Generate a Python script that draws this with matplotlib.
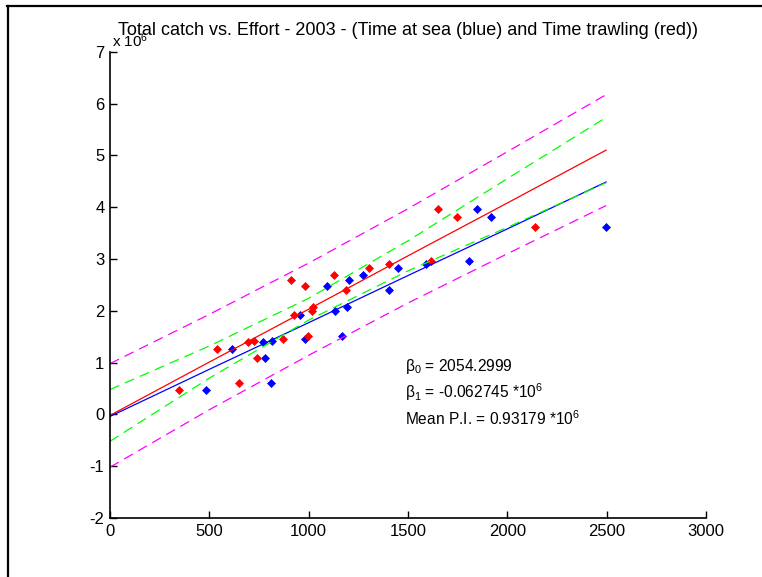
import matplotlib
matplotlib.use("Agg")
import matplotlib.pyplot as plt
from matplotlib.lines import Line2D

plt.rcParams['font.family'] = ['Liberation Sans', 'DejaVu Sans']
plt.rcParams['axes.unicode_minus'] = False
plt.rcParams['mathtext.default'] = 'regular'

# catch (x10^6) for each vessel, with effort as time at sea (blue) and time trawling (red)
catch = [0.477, 1.268, 0.612, 1.394, 1.419, 1.087, 1.458, 1.925, 1.988, 2.071, 2.485,
         2.587, 2.697, 2.407, 2.824, 2.909, 2.959, 3.963, 3.809, 3.620, 1.506]
time_sea = [485, 616, 809, 769, 815, 780, 982, 958, 1134, 1193, 1091,
            1201, 1275, 1403, 1450, 1591, 1807, 1846, 1918, 2497, 1168]
time_trawl = [347, 540, 651, 696, 725, 741, 869, 928, 1015, 1023, 982,
              911, 1126, 1188, 1305, 1403, 1614, 1649, 1745, 2137, 997]

# fitted lines and bands
fit_x = [0, 500, 1000, 1500, 2000, 2497]
fit_sea = [-0.04, 0.87, 1.77, 2.68, 3.58, 4.485]
fit_trawl = [-0.02, 1.01, 2.03, 3.06, 4.08, 5.10]
ci_upper = [0.48, 1.32, 2.24, 3.35, 4.55, 5.73]
ci_lower = [-0.52, 0.70, 1.82, 2.77, 3.61, 4.47]
pi_upper = [0.98, 1.93, 2.92, 3.97, 5.07, 6.17]
pi_lower = [-1.02, 0.09, 1.14, 2.15, 3.10, 4.03]

fig = plt.figure(figsize=(7.62, 5.77), dpi=100)
ax = fig.add_axes([0.1444, 0.1023, 0.7821, 0.8081])

ax.plot(time_sea, catch, 'D', color='blue', markersize=4.3, markeredgewidth=0.5)
ax.plot(time_trawl, catch, 'D', color='red', markersize=4.3, markeredgewidth=0.5)

dash = (0, (8, 5))
ax.plot(fit_x, fit_trawl, color='red', lw=0.9)
ax.plot(fit_x, fit_sea, color='blue', lw=0.9)
ax.plot(fit_x, ci_upper, color='#00ff00', lw=0.9, linestyle=dash)
ax.plot(fit_x, ci_lower, color='#00ff00', lw=0.9, linestyle=dash)
ax.plot(fit_x, pi_upper, color='magenta', lw=0.9, linestyle=dash)
ax.plot(fit_x, pi_lower, color='magenta', lw=0.9, linestyle=dash)

ax.set_xlim(0, 3000)
ax.set_ylim(-2, 7)
ax.set_xticks(range(0, 3001, 500))
ax.set_yticks(range(-2, 8))
ax.spines['top'].set_visible(False)
ax.spines['right'].set_visible(False)
ax.spines['left'].set_linewidth(1.2)
ax.spines['bottom'].set_linewidth(1.2)
ax.tick_params(direction='in', length=5, width=1, labelsize=12, pad=4)

ax.set_title("Total catch vs. Effort - 2003 - (Time at sea (blue) and Time trawling (red))",
             fontsize=13, pad=12)
ax.text(0.003, 1.004, r'x 10$^{6}$', transform=ax.transAxes, ha='left', va='bottom', fontsize=11)

ax.text(1485, 0.93, r'β$_0$ = 2054.2999', fontsize=11.2, va='center')
ax.text(1485, 0.42, r'β$_1$ = -0.062745 *10$^{6}$', fontsize=11.2, va='center')
ax.text(1485, -0.08, r'Mean P.I. = 0.93179 *10$^{6}$', fontsize=11.2, va='center')

# frame lines at the top and left edge of the picture
fig.add_artist(Line2D([0.009, 1.0], [0.989, 0.989], transform=fig.transFigure, color='black', lw=1.6))
fig.add_artist(Line2D([0.010, 0.010], [0.0, 0.989], transform=fig.transFigure, color='black', lw=1.6))

fig.savefig("out.png", dpi=100)
